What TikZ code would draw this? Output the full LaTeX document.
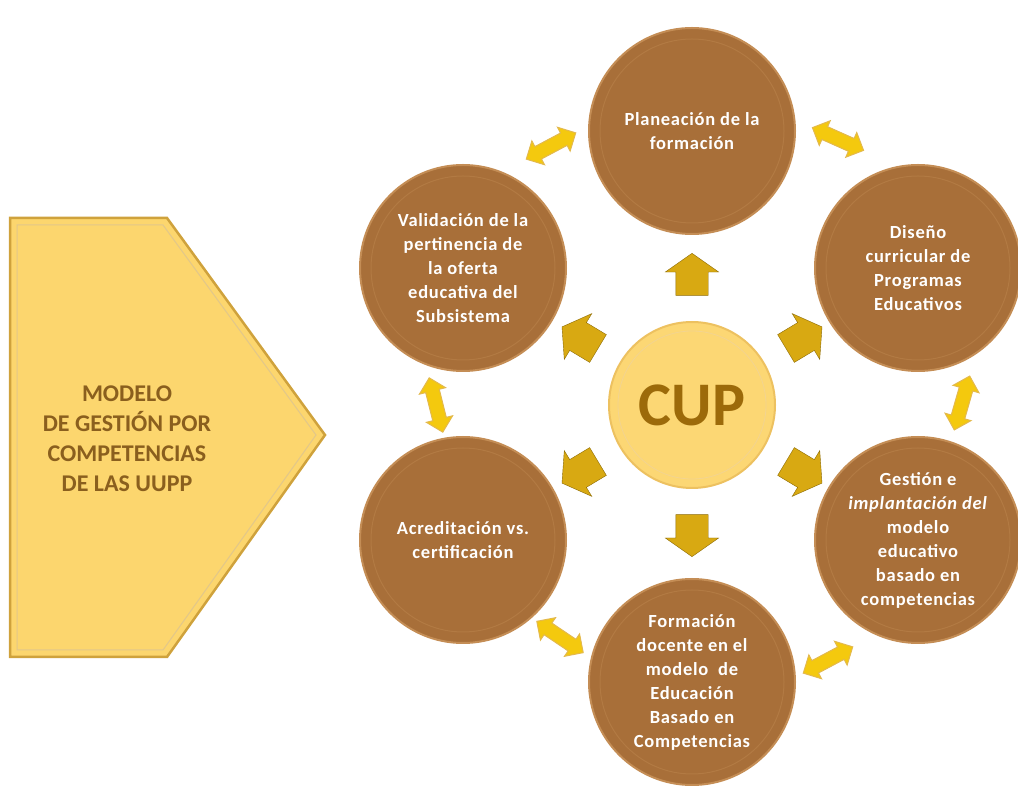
\documentclass[tikz,border=0pt]{standalone}
\usepackage{fontspec}
\setmainfont{Carlito}
\newfontfamily\circfont[LetterSpace=4]{Carlito}
\usepackage{tikz}
\usetikzlibrary{shapes,arrows,calc}

\definecolor{ringfill}{HTML}{A86F39}
\definecolor{ringedge}{HTML}{C48D55}
\definecolor{ringline}{HTML}{B27A43}
\definecolor{corefill}{HTML}{FCD774}
\definecolor{coreedge}{HTML}{EDC160}
\definecolor{coretext}{HTML}{9C6A0A}
\definecolor{modelfill}{HTML}{FCD66E}
\definecolor{modeledge}{HTML}{CFA23C}
\definecolor{modeltext}{HTML}{8A5F1E}
\definecolor{spokefill}{HTML}{D8A912}
\definecolor{spokeedge}{HTML}{8C6A05}
\definecolor{linkfill}{HTML}{F4C90E}
\definecolor{linkedge}{HTML}{E3B94E}

\begin{document}
\begin{tikzpicture}[x=1pt,y=1pt]
    \tikzstyle{topic} = [draw=ringedge, line width=2pt, fill=ringfill, shape=circle, minimum size=206pt, inner sep=0pt, align=center, text=white, font=\circfont\bfseries\fontsize{18.5}{24}\selectfont];
    \tikzstyle{hub} = [draw=coreedge, line width=2pt, fill=corefill, shape=circle, minimum size=166pt, inner sep=0pt, text=coretext, font=\bfseries\fontsize{62}{62}\selectfont];
    \tikzstyle{spoke} = [draw=spokeedge, fill=spokefill, shape=single arrow, minimum height=42pt, inner xsep=0pt, inner ysep=16pt, single arrow head extend=10.5pt, single arrow tip angle=110];
    \tikzstyle{link} = [draw=linkedge, line width=1pt, fill=linkfill, shape=double arrow, minimum height=56pt, inner xsep=0pt, inner ysep=6.5pt, double arrow head extend=6.5pt];
    \useasboundingbox (0,0) rectangle (1018,790);

    % Model arrow
    \draw [fill=modelfill, draw=modeledge, line width=2.5pt, line join=miter] (10,572) -- (167,572) -- (325,355) -- (167,133) -- (10,133) -- cycle;
    \draw [draw=modeledge!60, line width=1pt] (17,565) -- (163,565) -- (316,355) -- (163,140) -- (17,140) -- cycle;
    \node [align=center, text=modeltext, font=\bfseries\fontsize{24}{30}\selectfont] (model) at (127,351) {MODELO\\DE GESTIÓN POR\\COMPETENCIAS\\DE LAS UUPP};

    % Nodes
    \node [hub] (cup) at (692,385) {CUP};
    \node [topic] (plan) at (692,659) {Planeación de la\\formación};
    \node [topic] (dis) at (918,522) {Diseño\\curricular de\\Programas\\Educativos};
    \node [topic] (ges) at (918,250) {Gestión e\\\textit{implantación del}\\modelo\\educativo\\basado en\\competencias};
    \node [topic] (form) at (692,108) {Formación\\docente en el\\modelo~ de\\Educación\\Basado en\\Competencias};
    \node [topic] (acr) at (463,250) {Acreditación vs.\\certificación};
    \node [topic] (val) at (463,522) {Validación de la\\pertinencia de\\la oferta\\educativa del\\Subsistema};
    \foreach \n in {plan,dis,ges,form,acr,val}
        \draw [ringline, line width=1pt] (\n.center) circle (92);
    \draw [coreedge!70, line width=0.8pt] (cup.center) circle (74);

    % Spokes
    \foreach \a [count=\i] in {90,31,329,270,211,149}
        \node [spoke, rotate=\a] (s\i) at ($(cup)+(\a:125)$) {};

    % Links
    \node [link, rotate=28] (l1) at ($(cup)+(-141,259)$) {};
    \node [link, rotate=-24] (l2) at ($(cup)+(146,266)$) {};
    \node [link, rotate=74] (l3) at ($(cup)+(270,2)$) {};
    \node [link, rotate=28] (l4) at ($(cup)+(136,-255)$) {};
    \node [link, rotate=-34] (l5) at ($(cup)+(-132,-232)$) {};
    \node [link, rotate=104] (l6) at ($(cup)+(-256,0)$) {};
\end{tikzpicture}
\end{document}
